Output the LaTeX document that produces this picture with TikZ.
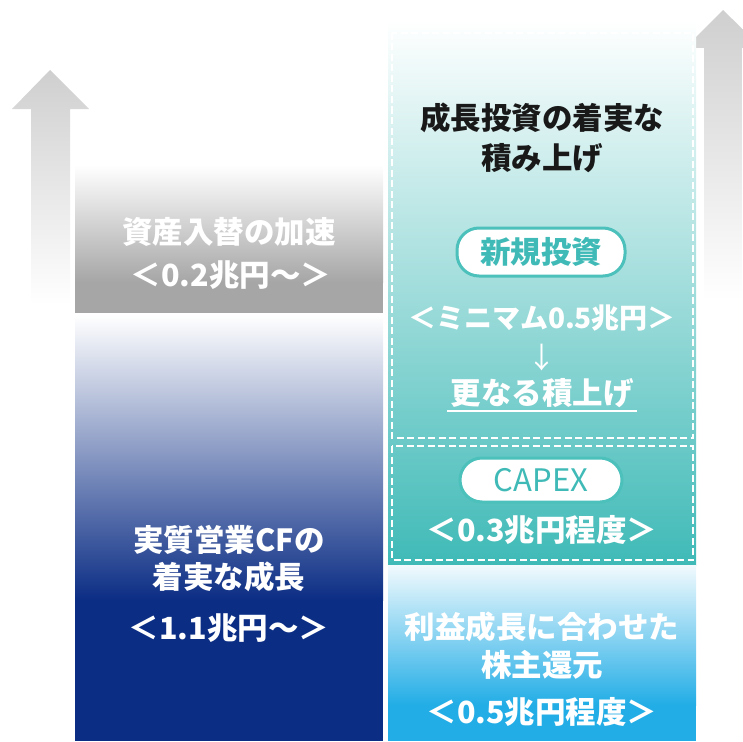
\documentclass[tikz,border=0pt]{standalone}
\usepackage{fontspec}
\setmainfont{Noto Sans CJK JP}
\definecolor{navy}{HTML}{0B2D84}
\definecolor{teal1}{HTML}{3FBAB7}
\definecolor{teal2}{HTML}{4CC0BB}
\definecolor{sky}{HTML}{22ADE6}
\definecolor{grayb}{HTML}{A6A6A6}
\definecolor{arrowg}{HTML}{CFCFCF}
\tikzset{
  wtxt/.style={text=white,font=\bfseries\fontsize{30.5}{36}\selectfont,inner sep=0pt},
  btxt/.style={text=black!90,font=\bfseries\fontsize{30.5}{36}\selectfont,inner sep=0pt},
  pill/.style={draw=teal2,line width=3pt,fill=white,rounded corners=22pt,text=teal1,
     font=\bfseries\fontsize{30.5}{36}\selectfont,inner sep=0pt},
  dashbox/.style={draw=white,line width=2.5pt,dash pattern=on 7pt off 3.5pt},
}
\begin{document}
\begin{tikzpicture}[x=1pt,y=-1pt]
\useasboundingbox (0,0) rectangle (743,741);
\clip (0,0) rectangle (743,741);
% arrows
\shade[top color=arrowg,bottom color=white] (50,70) -- (89,109) -- (70,109) -- (70,305) -- (31,305) -- (31,109) -- (12,109) -- cycle;
\shade[top color=arrowg,bottom color=white] (723,10) -- (762,48) -- (742,48) -- (742,300) -- (704,300) -- (704,48) -- (685,48) -- cycle;
% left gray box
\shade[top color=white,bottom color=grayb] (75,165) rectangle (383,282);
\fill[grayb] (75,281.5) rectangle (383,313);
% left blue box
\shade[top color=white,bottom color=navy] (75,315) rectangle (383,600);
\fill[navy] (75,599.5) rectangle (383,741);
% right teal
\shade[top color=white,bottom color=teal1] (388,20) rectangle (696,565);
% right sky
\shade[top color=sky!6,bottom color=sky] (388,565) rectangle (696,705);
\fill[sky] (388,704.5) rectangle (696,741);
% dashed boxes
\draw[dashbox] (392,33) rectangle (693,438);
\draw[dashbox] (392,446) rectangle (693,560);
% texts left
\node[wtxt] (g1) at (229,232) {資産入替の加速};
\node[wtxt] (g2) at (231,275) {＜0.2兆円～＞};
\node[wtxt] (b1) at (229,540) {実質営業CFの};
\node[wtxt] (b2) at (229,577) {着実な成長};
\node[wtxt] (b3) at (229,628) {＜1.1兆円～＞};
% texts right
\node[btxt] (t1) at (542,118) {成長投資の着実な};
\node[btxt] (t2) at (542,158) {積み上げ};
\node[pill,minimum width=168pt,minimum height=48pt] (p1) at (541,252) {新規投資};
\node[wtxt,font=\bfseries\fontsize{28}{36}\selectfont] (m1) at (542,318) {＜ミニマム0.5兆円＞};
\node[text=white,font=\fontsize{29}{36}\selectfont,inner sep=0pt] (ar) at (542,358) {↓};
\node[wtxt] (m2) at (542,393) {更なる積上げ};
\coordinate (u1) at (447,411);
\coordinate (u2) at (637,411);
\draw[white,line width=1.5pt] (u1) -- (u2);
\node[pill,minimum width=162pt,minimum height=44pt,font=\fontsize{31}{36}\selectfont] (p2) at (541,480) {CAPEX};
\node[wtxt] (c1) at (542,530) {＜0.3兆円程度＞};
\node[wtxt] (s1) at (542,627) {利益成長に合わせた};
\node[wtxt] (s2) at (542,665) {株主還元};
\node[wtxt] (s3) at (542,712) {＜0.5兆円程度＞};
\end{tikzpicture}
\end{document}
